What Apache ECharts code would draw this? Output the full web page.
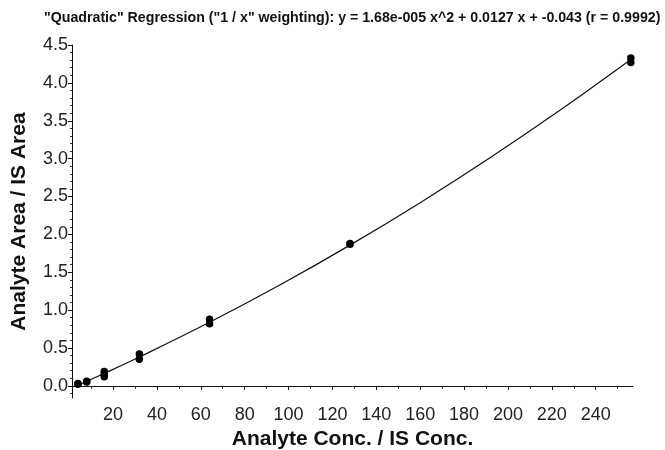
<!DOCTYPE html>
<html>
<head>
<meta charset="utf-8">
<title>Quadratic Regression</title>
<script src="https://cdn.jsdelivr.net/npm/echarts@6/dist/echarts.min.js"></script>
<style>
    html, body {margin: 0; padding: 0; background: #fff;}
    #main {width: 665px; height: 450px;}
</style>
</head>
<body>
<div id="main"></div>
<script>
// 标定点 (浓度比, 面积比)
var calX = [4, 4, 8, 8, 16, 16, 16, 32, 32, 64, 64, 128, 128, 256, 256];
var calY = [0.02, 0.03, 0.05, 0.06, 0.12, 0.15, 0.19, 0.35, 0.42, 0.82, 0.88, 1.87, 1.88, 4.27, 4.33];

// 拟合曲线上读出的点
var fitX = [4, 16, 32, 64, 96, 128, 160, 192, 224, 256];
var fitY = [0.008, 0.165, 0.381, 0.839, 1.331, 1.858, 2.419, 3.015, 3.645, 4.309];

// 刻度
var xMajor = [20, 40, 60, 80, 100, 120, 140, 160, 180, 200, 220, 240];
var xMinor = [10, 30, 50, 70, 90, 110, 130, 150, 170, 190, 210, 230, 250];
var yMajor = [0, 0.5, 1.0, 1.5, 2.0, 2.5, 3.0, 3.5, 4.0, 4.5];
var yMinor = [-0.1, 0.1, 0.2, 0.3, 0.4, 0.6, 0.7, 0.8, 0.9, 1.1, 1.2, 1.3, 1.4,
    1.6, 1.7, 1.8, 1.9, 2.1, 2.2, 2.3, 2.4, 2.6, 2.7, 2.8, 2.9, 3.1, 3.2, 3.3, 3.4,
    3.6, 3.7, 3.8, 3.9, 4.1, 4.2, 4.3, 4.4];

var titleText = '"Quadratic" Regression ("1 / x" weighting): y = 1.68e-005 x^2 + 0.0127 x + -0.043 (r = 0.9992)';

var myChart = echarts.init(document.getElementById('main'));

var points = calX.map(function (x, i) { return [x, calY[i]]; });
var curve = fitX.map(function (x, i) { return [x, fitY[i]]; });

var font = '"Liberation Sans", Arial, sans-serif';
var X_MIN = 1.3, X_MAX = 257, Y_MIN = -0.16, Y_MAX = 4.5;

var option = {
    backgroundColor: '#fff',
    animation: false,
    textStyle: {fontFamily: font},
    title: {
        text: titleText,
        left: 39,
        top: 6,
        textStyle: {fontSize: 14.2, fontWeight: 'bold', color: '#111', fontFamily: font}
    },
    grid: {left: 72, right: 32, top: 45, bottom: 52, outerBoundsMode: 'none', containLabel: false},
    xAxis: [{
        type: 'value',
        min: X_MIN,
        max: X_MAX,
        name: 'Analyte Conc. / IS Conc.',
        nameLocation: 'middle',
        nameGap: 27,
        nameTextStyle: {fontSize: 21, fontWeight: 'bold', color: '#111', fontFamily: font},
        axisLine: {show: true, lineStyle: {color: '#111', width: 1}},
        axisTick: {show: true, customValues: xMajor, length: 4, lineStyle: {color: '#111'}},
        axisLabel: {customValues: xMajor, fontSize: 18, color: '#222', margin: 8, fontFamily: font},
        splitLine: {show: false}
    }, {
        type: 'value',
        position: 'bottom',
        min: X_MIN,
        max: X_MAX,
        axisLine: {show: false},
        axisTick: {show: true, customValues: xMinor, length: 3, lineStyle: {color: '#333'}},
        axisLabel: {show: false},
        splitLine: {show: false}
    }],
    yAxis: [{
        type: 'value',
        min: Y_MIN,
        max: Y_MAX,
        name: 'Analyte Area / IS Area',
        nameLocation: 'middle',
        nameGap: 42,
        nameTextStyle: {fontSize: 21, fontWeight: 'bold', color: '#111', fontFamily: font},
        axisLine: {show: true, lineStyle: {color: '#111', width: 1}},
        axisTick: {show: true, customValues: yMajor, length: 4, lineStyle: {color: '#111'}},
        axisLabel: {
            customValues: yMajor, fontSize: 18, color: '#222', margin: 4, fontFamily: font,
            formatter: function (v) { return v.toFixed(1); }
        },
        splitLine: {show: false}
    }, {
        type: 'value',
        position: 'left',
        min: Y_MIN,
        max: Y_MAX,
        axisLine: {show: false},
        axisTick: {show: true, customValues: yMinor, length: 2, lineStyle: {color: '#333'}},
        axisLabel: {show: false},
        splitLine: {show: false}
    }],
    series: [{
        name: 'fit',
        type: 'line',
        data: curve,
        smooth: 0.4,
        showSymbol: false,
        symbol: 'none',
        lineStyle: {color: '#111', width: 1.2},
        z: 2
    }, {
        name: 'cal',
        type: 'scatter',
        data: points,
        symbolSize: 7.5,
        itemStyle: {color: '#000', opacity: 1},
        z: 3
    }]
};

myChart.setOption(option);
window.addEventListener('resize', function () {
    myChart.resize();
});
</script>
</body>
</html>
